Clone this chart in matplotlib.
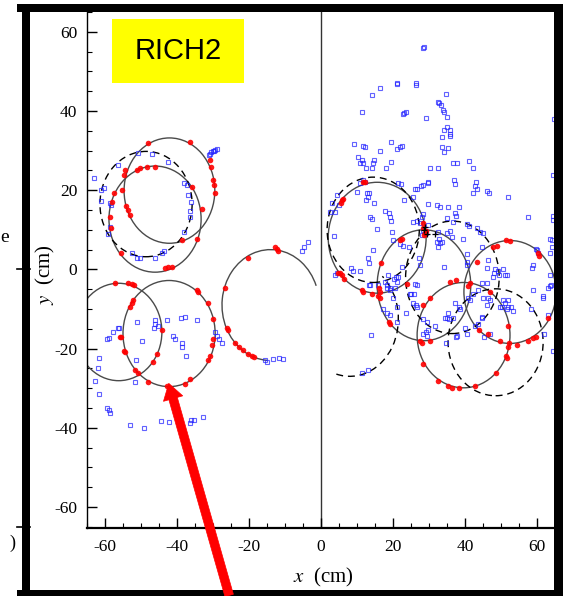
import matplotlib
matplotlib.use("Agg")
import matplotlib.pyplot as plt
from matplotlib.patches import Ellipse, Arc, Rectangle, FancyArrowPatch
from matplotlib.lines import Line2D
from matplotlib.ticker import MultipleLocator

plt.rcParams['font.family'] = ['Liberation Serif', 'DejaVu Serif']
plt.rcParams['mathtext.fontset'] = 'stix'
plt.rcParams['axes.unicode_minus'] = False

# fitted rings: centre x, centre y, width, height (cm)
solid_rings = [
    (-42.1, 19.9, 25.2, 26.6),
    (-46.1, 12.7, 25.6, 26.8),
    (-56.2, -15.8, 24.0, 24.6),
    (-42.2, -16.2, 25.6, 26.8),
    (15.6, 8.0, 27.2, 28.0),
    (28.6, -4.0, 26.0, 28.0),
    (52.5, -5.7, 25.6, 26.0),
    (39.6, -16.6, 25.8, 26.6),
]
solid_arcs = [(-14.0, -9.0, 27.0, 28.0, 21, 266)]
dashed_rings = [
    (-48.6, 16.5, 25.6, 26.6),
    (14.5, 10.0, 25.6, 26.6),
    (36.5, -2.0, 26.0, 28.4),
    (48.5, -18.4, 26.4, 27.0),
]
dashed_arcs = [(8.0, -12.5, 27.0, 29.0, -105, 50)]

# photon hits on rings (red)
red_x = [-48.1, -36.4, -30.8, -30.6, -30.0, -29.7, -29.4, -54.4, -54.7, -55.3, -54.2, -53.6, -53.1,
         -51.1, -50.3, -48.3, -46.1, -57.5, -58.1, -58.6, -58.3, -55.6, -43.3, -42.5, -41.4,
         -33.1, -35.8, -34.4, -38.6,
         -57.2, -53.6, -52.5, -51.9, -52.2, -52.5, -53.1, -55.6, -54.7, -51.7, -50.8,
         -34.4, -34.2, -31.4, -30.0, -30.0, -30.3, -30.8, -31.4, -36.4, -37.8, -42.8, -48.1,
         -44.2, -45.6, -46.7, -54.4, -55.8,
         -12.8, -12.2, -11.9, -20.3, -26.7, -26.1, -25.8, -23.9, -22.8, -21.7, -20.3, -19.2, -18.6,
         12.2, 11.7, 6.1, 5.6, 5.8, 5.3, 4.7, 5.8, 6.4, 11.4, 11.7, 14.2, 15.8, 16.4,
         28.3, 28.3, 29.2, 29.0, 28.6, 23.9,
         22.5, 21.9, 16.7, 16.1, 16.4, 19.2, 18.9, 27.5, 30.3,
         28.3, 30.3, 28.1, 28.3, 32.5, 35.3, 36.4, 38.3, 42.8, 48.6, 51.4, 51.7, 52.2, 51.9,
         37.5, 35.8, 46.9, 51.9,
         51.4, 52.5, 47.8, 48.9, 43.3, 41.4, 40.8, 60.3, 60.6, 43.9, 46.4, 49.7, 54.4, 57.5,
         58.9, 59.7, 63.1]
red_y = [31.9, 32.2, 27.6, 25.8, 22.5, 21.3, 19.2, 25.1, 23.8, 20.0, 15.9, 14.9, 13.7,
         25.1, 25.6, 25.8, 25.8, 19.2, 17.0, 13.2, 10.4, 4.1, 0.3, 0.5, 0.5,
         15.2, 20.8, 7.6, 7.3,
         -3.5, -3.5, -3.8, -4.0, -7.8, -8.6, -9.4, -17.0, -20.5, -25.3, -26.1,
         -5.1, -5.6, -8.4, -12.4, -17.5, -19.2, -21.8, -23.0, -27.8, -28.9, -29.4, -28.4,
         -15.2, -21.3, -23.5, -20.8, -17.0,
         5.6, 5.1, 4.6, 3.0, -4.8, -14.7, -15.4, -18.5, -19.7, -20.3, -21.3, -21.8, -22.0,
         22.0, 22.0, 17.7, 16.7, 17.5, -0.8, -1.0, -1.5, -2.5, -5.3, -5.6, -6.1, -6.6, -7.1,
         11.6, 10.4, 9.6, 9.2, 8.8, -3.8,
         7.8, 7.3, 1.5, -4.8, -5.6, -13.7, -13.2, -18.2, -18.0,
         -9.1, -7.3, -18.5, -23.8, -28.1, -29.4, -29.9, -29.9, -29.4, -26.1, -21.8, -22.3, -18.7, -19.5,
         -2.8, -3.3, -5.6, -14.2,
         7.3, 7.1, 5.6, 5.8, 1.8, -3.5, -4.3, 4.1, 3.5, -15.2, -16.2, -18.2, -19.2, -18.2,
         -17.2, -17.0, -12.2]

# unassigned hits (blue)
blue_x = [-30.8, -30.5, -30.0, -29.5, -29.0, -31.0, -29.8,
          -63.1, -61.1, -60.3, -61.1, -58.6, -58.3, -58.6, -59.2, -56.4, -50.8, -46.9, -42.5, -38.1,
          -37.2, -36.9, -36.1, -36.4, -36.4, -38.1, -52.5, -51.1, -50.3, -46.1, -44.2, -43.6,
          -59.4, -58.9, -57.8, -56.4, -56.1, -51.1, -49.7, -46.1, -46.1, -46.4, -45.3, -42.8, -41.1,
          -40.6, -38.6, -38.6, -37.5, -38.9, -37.8, -34.4, -29.4, -28.9, -28.3, -27.5, -61.7, -61.9,
          -62.8, -61.7, -59.4, -58.9, -58.6, -51.4, -51.7, -53.1, -49.2, -44.4, -42.2, -36.4, -36.1,
          -35.3, -32.8,
          -15.6, -15.0, -13.3, -11.7, -10.6, -5.3, -4.7, -3.6,
          28.3, 28.6, 21.1, 21.1, 26.4, 26.4, 16.4, 14.2, 34.7, 11.4, 22.8, 23.1, 23.6, 29.2, 32.5,
          32.8, 33.3, 33.9, 34.2, 35.0, 35.0, 34.2, 35.8, 35.8, 35.8, 33.6, 9.2, 11.7, 12.2, 19.4,
          21.1, 21.9, 22.5, 16.4, 33.6, 35.3, 34.2, 10.3, 11.4, 11.7, 10.8, 14.7, 14.4, 19.4, 36.7,
          37.8, 41.1, 32.5, 42.2, 12.5, 18.1, 64.7,
          36.9, 37.2, 29.7, 28.3, 26.1, 43.1, 42.8, 43.3, 42.2, 46.1, 46.7, 51.9, 64.4, 64.4, 64.4,
          57.5, 63.6, 64.2, 63.6, 59.7, 60.3, 63.6, 63.6, 61.7,
          14.2, 30.3, 11.7, 12.2, 10.8, 10.0, 12.8, 13.3, 13.1, 12.5, 14.7, 21.4, 22.2, 26.7, 25.6,
          29.7, 27.8, 23.1, 29.7, 4.4, 3.1, 5.0, 3.9, 2.5, 17.8, 18.9, 19.2, 19.4, 15.6, 13.6, 14.2,
          19.7, 20.0, 3.6, 25.6, 26.7, 27.5, 28.1, 28.3, 28.3, 28.1, 29.2, 29.7, 32.2, 32.5, 32.2,
          32.5, 21.9, 22.8, 24.4, 27.2, 27.5, 14.4, 13.1, 13.3, 22.5, 8.3, 8.9, 10.8, 18.6, 20.8,
          21.4, 20.3, 13.3, 17.8, 18.3, 19.2, 20.6, 26.7, 24.7, 3.9, 4.4,
          33.1, 35.3, 38.3, 37.2, 37.5, 35.0, 36.7, 40.6, 41.1, 43.3, 44.2, 45.0, 35.0, 35.8, 36.4,
          32.8, 33.6, 33.1, 39.4, 44.7, 40.6, 40.6, 40.6, 34.2, 46.4, 46.1, 48.3, 49.2, 50.6, 48.1,
          49.4, 51.1, 51.7, 47.8, 46.1, 44.7, 42.2, 43.6, 40.8, 41.4, 46.4, 46.9, 45.0, 51.9, 50.6,
          51.1, 52.8, 51.7, 49.7, 53.3, 37.2, 38.3, 35.3, 34.4, 36.7, 44.7, 58.9, 58.9, 58.6, 61.7,
          63.1, 63.9, 60.0, 64.2, 63.1, 58.3,
          13.6, 15.8, 18.3, 21.1, 26.1, 19.2, 20.0, 25.0, 25.8, 25.6, 26.4, 26.7, 17.2, 18.3, 19.2,
          21.1, 23.6, 21.1, 13.9, 28.3, 29.4, 28.3, 29.2, 29.7, 29.4, 31.7, 11.4, 13.1,
          38.6, 35.0, 35.6, 34.7, 37.5, 37.8, 40.0, 40.6, 42.8, 43.6, 44.7, 45.3, 46.9, 46.1, 50.3,
          52.0, 61.9, 64.4]
blue_y = [29.2, 29.6, 30.0, 30.2, 30.3, 28.8, 29.9,
          23.0, 20.0, 20.5, 17.2, 16.7, 16.2, 10.6, 8.9, 26.3, 29.4, 29.1, 27.1, 21.8,
          21.3, 18.7, 17.0, 14.7, 13.2, 9.4, 4.1, 3.0, 3.0, 3.0, 4.1, 4.6,
          -17.5, -17.2, -15.9, -14.9, -14.7, -13.4, -18.2, -12.9, -13.9, -14.7, -14.2, -12.7, -16.7,
          -17.5, -18.7, -19.7, -21.8, -12.2, -11.9, -12.7, -15.7, -16.7, -17.5, -18.5, -22.3, -24.8,
          -28.1, -31.4, -34.9, -35.4, -36.2, -22.8, -28.4, -39.2, -40.0, -38.2, -38.5, -38.7, -38.0,
          -38.0, -37.2,
          -23.0, -23.3, -22.5, -22.3, -22.5, 4.6, 5.6, 6.8,
          55.9, 56.2, 47.1, 46.8, 47.1, 46.6, 45.8, 44.0, 44.3, 39.7, 39.2, 39.5, 39.7, 38.2, 42.3,
          42.0, 41.5, 40.3, 39.7, 38.5, 36.0, 35.2, 35.2, 34.2, 33.7, 33.4, 31.6, 31.1, 30.9, 32.2,
          30.4, 30.9, 31.1, 29.9, 30.9, 30.6, 29.6, 28.4, 27.6, 26.8, 26.8, 27.6, 26.8, 27.1, 26.8,
          26.8, 27.3, 25.6, 25.6, 25.6, 25.6, 38.0,
          22.5, 21.5, 22.0, 21.3, 20.3, 22.0, 21.0, 20.3, 19.2, 19.7, 19.2, 18.2, 23.8, 13.4, 12.6,
          13.2, 7.6, 5.6, 4.1, 5.1, 4.1, -4.3, -1.5, -6.6,
          25.6, 25.6, 22.5, 22.0, 21.8, 19.5, 19.2, 19.2, 18.2, 17.5, 16.7, 21.8, 21.5, 20.3, 18.2,
          21.8, 21.0, 17.5, 16.5, 18.7, 16.7, 16.2, 14.4, 14.4, 14.7, 14.2, 13.2, 12.2, 10.1, 13.2, 12.7,
          9.4, 7.3, 8.4, 11.9, 12.2, 11.6, 13.2, 13.9, 9.9, 8.6, 9.1, 11.1, 16.2, 9.4, 6.8,
          5.6, 6.3, 5.8, 5.6, 3.0, 1.0, 4.8, 2.8, 1.5, 0.5, 0.3, -0.3, -0.5, -1.5, -2.0,
          -1.8, -2.5, -4.0, -3.3, -4.6, -4.8, -4.6, -4.0, -6.1, -1.5, -0.8,
          15.7, 15.7, 15.7, 14.2, 13.4, 12.9, 11.9, 11.4, 10.9, 10.4, 9.4, 9.1, 9.1, 9.6, 8.1,
          7.8, 6.8, 6.6, 7.6, 5.6, 3.8, 1.8, 1.0, 0.5, 2.5, 0.3, 0.0, -0.3, 0.0, -1.0,
          -1.3, -1.5, -1.3, -2.0, -3.5, -3.5, -6.1, -5.1, -7.1, -7.8, -7.1, -7.8, -7.3, -7.6, -7.8,
          -8.6, -9.6, -10.1, -9.6, -10.4, -8.6, -9.4, -10.9, -12.2, -12.2, -11.9, -5.3, 1.0, 0.3, -7.1,
          -4.6, -4.0, 4.8, 7.3, -11.6, -9.9,
          -4.0, -4.0, -4.0, -3.3, -3.8, -5.1, -7.3, -6.1, -6.1, -8.6, -9.1, -9.6, -10.1, -11.1, -11.6,
          -9.6, -11.1, -13.4, -16.5, -12.4, -13.4, -16.2, -15.7, -15.4, -16.7, -14.4, -26.1, -25.3,
          -9.9, -12.2, -12.4, -18.5, -17.0, -16.7, -14.7, -16.2, -14.2, -13.7, -12.2, -17.0, -16.2, -9.1, -9.6,
          -9.6, -16.2, -20.5]

cross_x = [28.6, 29.4, 31.8, 29.0]
cross_y = [9.9, 8.9, 9.0, 10.6]

x_ticks = [-60, -40, -20, 0, 20, 40, 60]
y_ticks = [-60, -40, -20, 0, 20, 40, 60]
arrow_tip = (-42.5, -28.1)
arrow_tail = (-25.3, -83.0)

fig = plt.figure(figsize=(5.63, 5.96), dpi=100)
ax = fig.add_axes([87 / 563, 1 - 528 / 596, 468 / 563, 516 / 596])
ax.set_xlim(-65, 65)
ax.set_ylim(-65.3, 65)

for cx, cy, w, h in solid_rings:
    ax.add_patch(Ellipse((cx, cy), w, h, fill=False, ec='#4a4a4a', lw=1.0, zorder=2))
for cx, cy, w, h, t1, t2 in solid_arcs:
    ax.add_patch(Arc((cx, cy), w, h, theta1=t1, theta2=t2, ec='#4a4a4a', lw=1.0, zorder=2))
for cx, cy, w, h in dashed_rings:
    ax.add_patch(Ellipse((cx, cy), w, h, fill=False, ec='black', lw=1.0, ls=(0, (5, 3.5)), zorder=2))
for cx, cy, w, h, t1, t2 in dashed_arcs:
    ax.add_patch(Arc((cx, cy), w, h, theta1=t1, theta2=t2, ec='black', lw=1.0, ls=(0, (5, 3.5)), zorder=2))

ax.plot(blue_x, blue_y, 's', ms=3.4, mfc='none', mec='#2020ff', mew=0.8, alpha=0.7, zorder=3)
ax.plot(red_x, red_y, 'o', ms=4.0, color='#ff0000', mec='none', alpha=0.9, zorder=4)
ax.plot(cross_x, cross_y, '+', ms=5, color='black', mew=0.9, zorder=5)

ax.axvline(0, color='#333333', lw=1.0, zorder=1)

ax.spines['top'].set_visible(False)
ax.spines['right'].set_visible(False)
ax.spines['left'].set_linewidth(1.0)
ax.spines['bottom'].set_linewidth(1.6)
ax.set_xticks(x_ticks)
ax.set_yticks(y_ticks)
ax.xaxis.set_minor_locator(MultipleLocator(5))
ax.yaxis.set_minor_locator(MultipleLocator(5))
ax.tick_params(which='major', direction='in', length=7, width=1, labelsize=12.5, pad=8)
ax.tick_params(which='minor', direction='in', length=3.5, width=0.8)
ax.tick_params(axis='y', which='major', pad=7)

ax.text(0.504, -0.095, r'$x$  (cm)', transform=ax.transAxes, ha='center', va='center', fontsize=15)
ax.text(-0.088, 0.49, r'$y$  (cm)', transform=ax.transAxes, ha='center', va='center',
        rotation=90, fontsize=15)

# yellow detector label
ax.add_patch(Rectangle((0.0534, 0.8624), 0.2821, 0.124, transform=ax.transAxes,
                       fc='#ffff00', ec='none', zorder=6))
ax.text(0.194, 0.924, 'RICH2', transform=ax.transAxes, ha='center', va='center',
        fontsize=21, family='Liberation Sans', zorder=7)

# slide frame around the figure
W, H = 563, 596
for x0, y0, x1, y1 in [(22, 4, 30, 596), (17, 4, 563, 12), (554, 4, 563, 596), (17, 590, 563, 596)]:
    fig.add_artist(Rectangle((x0 / W, 1 - y1 / H), (x1 - x0) / W, (y1 - y0) / H,
                             transform=fig.transFigure, fc='black', ec='none', zorder=3))
for yy in (269, 527):
    fig.add_artist(Line2D([17 / W, 30 / W], [1 - yy / H, 1 - yy / H], transform=fig.transFigure,
                          color='black', lw=1.2, zorder=3))
fig.text(0.5 / W, 1 - 237 / H, 'e', ha='left', va='center', fontsize=14)
fig.text(12 / W, 1 - 543 / H, ')', ha='center', va='center', fontsize=13)

arrow = FancyArrowPatch(arrow_tail, arrow_tip, transform=ax.transData,
                        arrowstyle='simple,head_length=1.9,head_width=2.4,tail_width=1.05',
                        mutation_scale=6, fc='#ff0000', ec='#ff0000', lw=0.5, zorder=8)
fig.add_artist(arrow)

fig.savefig('out.png', dpi=100)
